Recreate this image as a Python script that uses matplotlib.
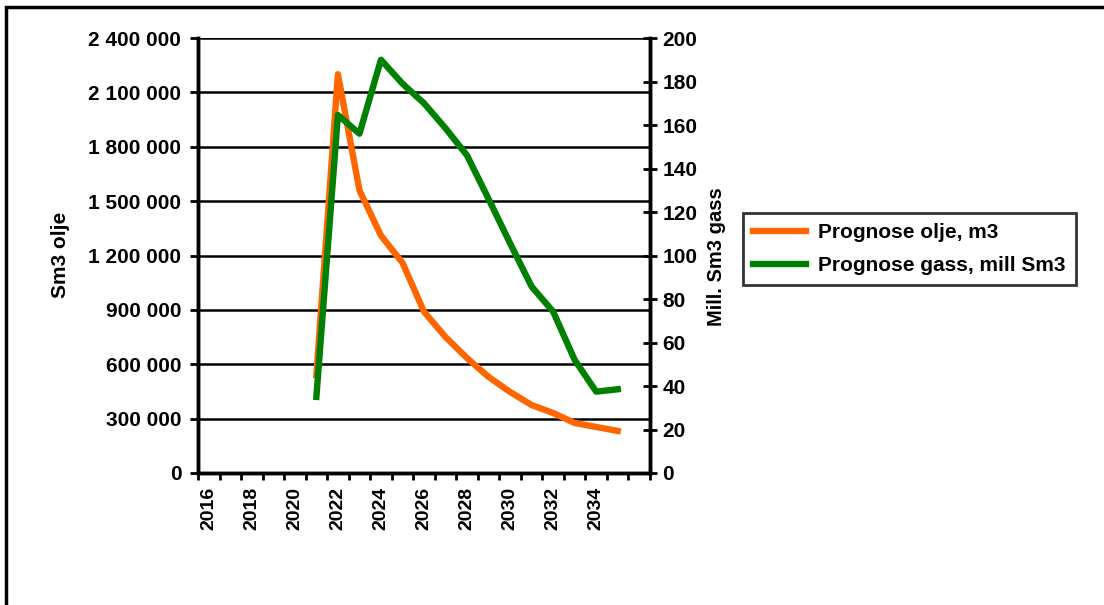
import numpy as np
import matplotlib.pyplot as plt
from matplotlib.patches import Rectangle
from matplotlib.ticker import FuncFormatter

plt.rcParams['font.family'] = ['Liberation Sans', 'DejaVu Sans']
plt.rcParams['font.weight'] = 'bold'

years = list(range(2016, 2037))
year_labels = [str(y) if (y - 2016) % 2 == 0 and y <= 2034 else '' for y in years]

# oil forecast (Sm3), 2021-2035
oil_years = list(range(2021, 2036))
oil = [540000, 2200000, 1560000, 1310000, 1160000, 890000, 750000, 634000,
       530000, 447000, 375000, 331000, 276000, 254000, 232000]

# gas forecast (mill Sm3), 2021-2035
gas_years = list(range(2021, 2036))
gas = [35, 164.6, 156, 190, 179, 170, 158.5, 146, 126, 105.6, 85.7, 74.2,
       52, 37.4, 38.5]

fig = plt.figure(figsize=(11.04, 6.05), dpi=100)
fig.patches.append(Rectangle((6 / 1104, -0.1), 1.2, 1.1 - 7 / 605,
                             transform=fig.transFigure, fill=False,
                             edgecolor='black', linewidth=2.5))

ax = fig.add_axes([198 / 1104, 1 - 473 / 605, 452 / 1104, 435 / 605])
ax2 = ax.twinx()

xo = [years.index(y) + 0.5 for y in oil_years]
xg = [years.index(y) + 0.5 for y in gas_years]

l1, = ax.plot(xo, oil, color='#ff6600', linewidth=4.6,
              label='Prognose olje, m3')
l2, = ax2.plot(xg, gas, color='#008000', linewidth=4.6,
               label='Prognose gass, mill Sm3')

ax.set_xlim(0, len(years))
ax.set_ylim(0, 2400000)
ax2.set_ylim(0, 200)

ax.set_yticks(np.arange(0, 2400001, 300000))
ax.yaxis.set_major_formatter(FuncFormatter(lambda v, p: f'{int(v):,}'.replace(',', ' ')))
ax2.set_yticks(np.arange(0, 201, 20))

ax.set_xticks(np.arange(0, len(years) + 1), minor=True)
ax.set_xticks([i + 0.5 for i in range(len(years))])
ax.set_xticklabels(year_labels, rotation=90, fontsize=14, fontweight='bold')
ax.tick_params(axis='x', which='major', length=0, pad=10)
ax.tick_params(axis='x', which='minor', length=5, width=2, direction='out')

ax.tick_params(axis='y', length=6, width=2, direction='out', labelsize=15, pad=6)
ax2.tick_params(axis='y', length=10, width=2, direction='inout', labelsize=15, pad=4)
for lab in ax.get_yticklabels() + ax2.get_yticklabels():
    lab.set_fontweight('bold')

ax.grid(axis='y', color='black', linewidth=1.8)
ax.set_axisbelow(True)

for a in (ax, ax2):
    for s in a.spines.values():
        s.set_linewidth(2.5)
ax.spines['top'].set_visible(False)
ax2.spines['top'].set_visible(False)

ax.set_ylabel('Sm3 olje', fontsize=15, fontweight='bold')
ax.yaxis.label.set_va('center')
ax2.set_ylabel('Mill. Sm3 gass', fontsize=14.5, fontweight='bold')
ax2.yaxis.label.set_va('center')
ax.yaxis.set_label_coords(61 / 1104, 1 - 255 / 605, transform=fig.transFigure)
ax2.yaxis.set_label_coords(716 / 1104, 1 - 257 / 605, transform=fig.transFigure)

leg = fig.legend(handles=[l1, l2], loc='upper left',
                 bbox_to_anchor=(743 / 1104, 1 - 213 / 605),
                 fontsize=15, frameon=True, fancybox=False,
                 edgecolor='black', handlelength=2.5, borderpad=0.5,
                 labelspacing=0.65, handletextpad=0.6, borderaxespad=0)
leg.get_frame().set_linewidth(2)
for t in leg.get_texts():
    t.set_fontweight('bold')

fig.savefig('out.png', dpi=100)
